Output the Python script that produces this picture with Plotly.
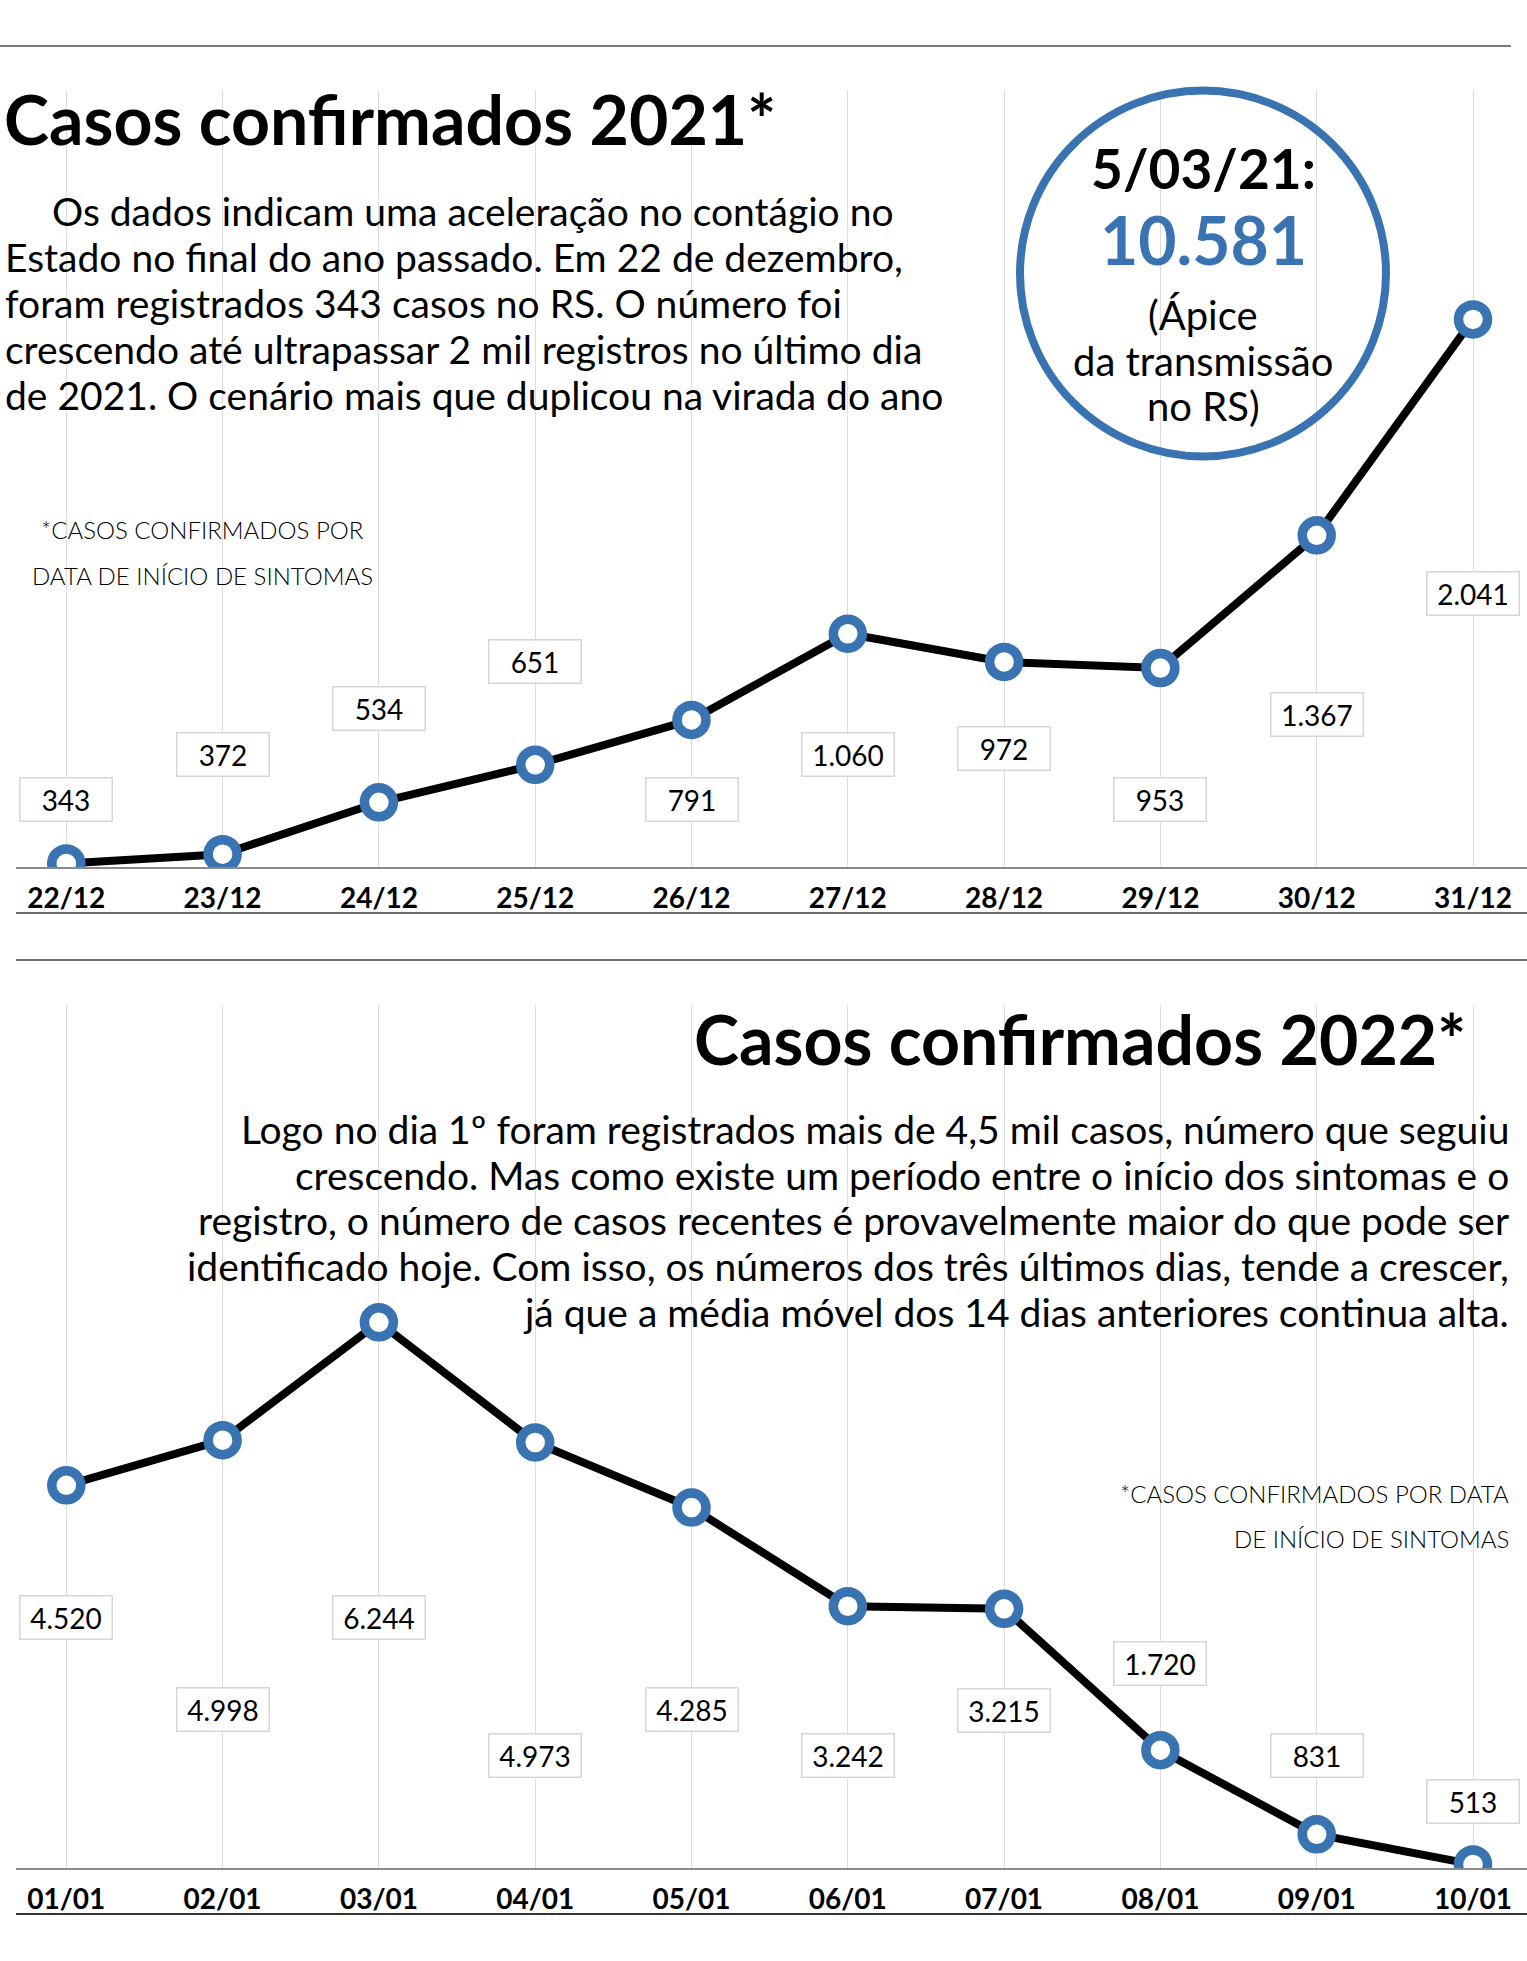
import plotly.graph_objects as go

W, H = 1527, 1961

# ---------------- data ----------------
dates_2021 = ["22/12", "23/12", "24/12", "25/12", "26/12", "27/12", "28/12", "29/12", "30/12", "31/12"]
cases_2021 = [343, 372, 534, 651, 791, 1060, 972, 953, 1367, 2041]
dates_2022 = ["01/01", "02/01", "03/01", "04/01", "05/01", "06/01", "07/01", "08/01", "09/01", "10/01"]
cases_2022 = [4520, 4998, 6244, 4973, 4285, 3242, 3215, 1720, 831, 513]

# label box vertical positions (page pixels)
label_y_2021 = [799, 754, 708, 661, 799, 754, 748, 800, 714, 593]
label_y_2022 = [1617, 1709, 1617, 1755, 1709, 1755, 1710, 1663, 1755, 1801]

BLUE = "#3a73b1"
FONT = "Lato"


def fmt(v):
    return f"{v:,}".replace(",", ".")


def px(x):
    return x / W


def py(y):
    return 1 - y / H


fig = go.Figure()

fig.add_trace(go.Scatter(
    x=dates_2021, y=cases_2021, mode="lines+markers", xaxis="x", yaxis="y",
    line=dict(color="black", width=8),
    marker=dict(size=29, color="white", line=dict(color=BLUE, width=9.5)),
    hoverinfo="skip", showlegend=False))
fig.add_trace(go.Scatter(
    x=dates_2022, y=cases_2022, mode="lines+markers", xaxis="x2", yaxis="y2",
    line=dict(color="black", width=8),
    marker=dict(size=29, color="white", line=dict(color=BLUE, width=9.5)),
    hoverinfo="skip", showlegend=False))

x_first, x_step = 66.3, 156.3
x_left = 16
xr = [(x_left - x_first) / x_step, (W - x_first) / x_step]

common_x = dict(type="category", range=xr, domain=[px(x_left), 1],
                showgrid=True, gridcolor="#dcdcdc", gridwidth=1.3,
                showline=True, linecolor="#8a8a8a", linewidth=2,
                ticks="", ticklabelstandoff=5,
                tickfont=dict(family=FONT, size=28, color="black", weight="bold"),
                zeroline=False, fixedrange=True)

fig.update_layout(
    width=W, height=H, margin=dict(l=0, r=0, t=0, b=0),
    paper_bgcolor="white", plot_bgcolor="white",
    xaxis=dict(common_x, anchor="y"),
    yaxis=dict(domain=[py(867), py(90)], range=[332, 2757], visible=False,
               showgrid=False, fixedrange=True),
    xaxis2=dict(common_x, anchor="y2"),
    yaxis2=dict(domain=[py(1868), py(1005)], range=[475, 9598], visible=False,
                showgrid=False, fixedrange=True),
)

shapes = []
# white masks that cut gridlines under text blocks (between grid and traces)
masks = [
    (0, 450, 80, 639), (450, 930, 80, 454), (930, 1240, 80, 502), (1240, 1400, 80, 528),
    (145, 300, 990, 1327), (300, 458, 990, 1325), (458, 1082, 990, 1372),
    (1082, 1238, 990, 1546), (1238, 1394, 990, 1603), (1394, 1527, 990, 1591),
]
for x0, x1, y0, y1 in masks:
    shapes.append(dict(type="rect", xref="paper", yref="paper", layer="between",
                       x0=px(x0), x1=px(x1), y0=py(y1), y1=py(y0),
                       fillcolor="white", line=dict(width=0)))
# rules
for y, x0, x1, col, wd in [(46, 0, 1511, "#7a7a7a", 2), (913, 16, 1527, "#6e6e6e", 2),
                           (960, 16, 1527, "#6e6e6e", 2), (1914, 16, 1527, "#333333", 2)]:
    shapes.append(dict(type="line", xref="paper", yref="paper", x0=px(x0), x1=px(x1),
                       y0=py(y), y1=py(y), line=dict(color=col, width=wd)))
# callout circle
cx, cy, r = 1203, 273.5, 183
shapes.append(dict(type="circle", xref="paper", yref="paper", layer="above",
                   x0=px(cx - r), x1=px(cx + r), y0=py(cy + r), y1=py(cy - r),
                   line=dict(color=BLUE, width=8), fillcolor="rgba(0,0,0,0)"))
fig.update_layout(shapes=shapes)

ann = []


def text(t, x, y, size, xanchor="left", weight="normal", color="black"):
    ann.append(dict(text=t, x=px(x), y=py(y), xref="paper", yref="paper",
                    xanchor=xanchor, yanchor="middle", showarrow=False,
                    font=dict(family=FONT, size=size, color=color, weight=weight)))


text("Casos confirmados 2021*", 2, 119, 68, weight="bold")
para21 = ["Os dados indicam uma aceleração no contágio no",
          "Estado no final do ano passado. Em 22 de dezembro,",
          "foram registrados 343 casos no RS. O número foi",
          "crescendo até ultrapassar 2 mil registros no último dia",
          "de 2021. O cenário mais que duplicou na virada do ano"]
para21_x = [50, 3, 3, 3, 3]
para21_y = [211, 257, 303, 349, 395]
for t, x, y in zip(para21, para21_x, para21_y):
    text(t, x, y, 39)

text("5/03/21:", cx, 168, 55, xanchor="center", weight="bold")
text("10.581", cx, 239, 66, xanchor="center", weight="bold", color=BLUE)
for t, y in zip(["(Ápice", "da transmissão", "no RS)"], [315, 361, 406]):
    text(t, cx, y, 40, xanchor="center")

text("*CASOS CONFIRMADOS POR", 202, 529, 24, xanchor="center", weight=300)
text("DATA DE INÍCIO DE SINTOMAS", 202, 575, 24, xanchor="center", weight=300)

text("Casos confirmados 2022*", 1468, 1038, 68, xanchor="right", weight="bold")
para22 = ["Logo no dia 1º foram registrados mais de 4,5 mil casos, número que seguiu",
          "crescendo. Mas como existe um período entre o início dos sintomas e o",
          "registro, o número de casos recentes é provavelmente maior do que pode ser",
          "identificado hoje. Com isso, os números dos três últimos dias, tende a crescer,",
          "já que a média móvel dos 14 dias anteriores continua alta."]
para22_y = [1129, 1175, 1220, 1266, 1312]
for t, y in zip(para22, para22_y):
    text(t, 1511, y, 39, xanchor="right")

text("*CASOS CONFIRMADOS POR DATA", 1511, 1493, 24, xanchor="right", weight=300)
text("DE INÍCIO DE SINTOMAS", 1511, 1538, 24, xanchor="right", weight=300)

# value labels
for xref, cats, vals, ys in [("x", dates_2021, cases_2021, label_y_2021),
                             ("x2", dates_2022, cases_2022, label_y_2022)]:
    for c, v, y in zip(cats, vals, ys):
        ann.append(dict(text=fmt(v), x=c, xref=xref, y=py(y), yref="paper",
                        xanchor="center", yanchor="middle", showarrow=False,
                        bgcolor="white", bordercolor="#d6d6d6", borderwidth=1.5,
                        borderpad=0, width=91, height=42,
                        font=dict(family=FONT, size=28, color="black")))

fig.update_layout(annotations=ann)
fig.write_html("out.html", config={"displayModeBar": False},
               post_script="document.body.style.margin='0px';")
